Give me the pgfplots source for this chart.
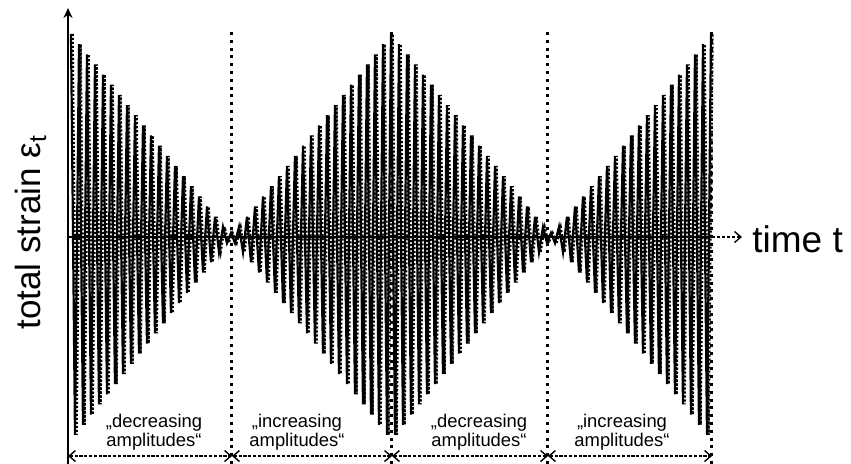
\documentclass[border=0pt]{standalone}
\usepackage{pgfplots}
\pgfplotsset{compat=1.18}
\usepackage{pgfplotstable}
\usepackage{fontspec}
\setmainfont{Liberation Sans}
\usetikzlibrary{arrows.meta}

\pgfplotstableread{
t s
0 1
0.5 -0.975
1 0.95
1.5 -0.925
2 0.9
2.5 -0.875
3 0.85
3.5 -0.825
4 0.8
4.5 -0.775
5 0.75
5.5 -0.725
6 0.7
6.5 -0.675
7 0.65
7.5 -0.625
8 0.6
8.5 -0.575
9 0.55
9.5 -0.525
10 0.5
10.5 -0.475
11 0.45
11.5 -0.425
12 0.4
12.5 -0.375
13 0.35
13.5 -0.325
14 0.3
14.5 -0.275
15 0.25
15.5 -0.225
16 0.2
16.5 -0.175
17 0.15
17.5 -0.125
18 0.1
18.5 -0.075
19 0.05
19.5 -0.03
20 0.02
20.5 -0.03
21 0.05
21.5 -0.075
22 0.1
22.5 -0.125
23 0.15
23.5 -0.175
24 0.2
24.5 -0.225
25 0.25
25.5 -0.275
26 0.3
26.5 -0.325
27 0.35
27.5 -0.375
28 0.4
28.5 -0.425
29 0.45
29.5 -0.475
30 0.5
30.5 -0.525
31 0.55
31.5 -0.575
32 0.6
32.5 -0.625
33 0.65
33.5 -0.675
34 0.7
34.5 -0.725
35 0.75
35.5 -0.775
36 0.8
36.5 -0.825
37 0.85
37.5 -0.875
38 0.9
38.5 -0.925
39 0.95
39.5 -0.975
40 1
40.5 -0.975
41 0.95
41.5 -0.925
42 0.9
42.5 -0.875
43 0.85
43.5 -0.825
44 0.8
44.5 -0.775
45 0.75
45.5 -0.725
46 0.7
46.5 -0.675
47 0.65
47.5 -0.625
48 0.6
48.5 -0.575
49 0.55
49.5 -0.525
50 0.5
50.5 -0.475
51 0.45
51.5 -0.425
52 0.4
52.5 -0.375
53 0.35
53.5 -0.325
54 0.3
54.5 -0.275
55 0.25
55.5 -0.225
56 0.2
56.5 -0.175
57 0.15
57.5 -0.125
58 0.1
58.5 -0.075
59 0.05
59.5 -0.03
60 0.02
60.5 -0.03
61 0.05
61.5 -0.075
62 0.1
62.5 -0.125
63 0.15
63.5 -0.175
64 0.2
64.5 -0.225
65 0.25
65.5 -0.275
66 0.3
66.5 -0.325
67 0.35
67.5 -0.375
68 0.4
68.5 -0.425
69 0.45
69.5 -0.475
70 0.5
70.5 -0.525
71 0.55
71.5 -0.575
72 0.6
72.5 -0.625
73 0.65
73.5 -0.675
74 0.7
74.5 -0.725
75 0.75
75.5 -0.775
76 0.8
76.5 -0.825
77 0.85
77.5 -0.875
78 0.9
78.5 -0.925
79 0.95
79.5 -0.975
80 1
}\wave

\tikzset{
  sep/.style={line width=1.5pt, dash pattern=on 1.5pt off 2.4pt},
  span/.style={line width=0.7pt, dash pattern=on 1.6pt off 0.8pt, {Straight Barb[length=3.2pt,width=5.5pt]}-{Straight Barb[length=3.2pt,width=5.5pt]}},
  lab/.style={anchor=base, font=\fontsize{9.2}{10}\selectfont, inner sep=0pt},
}

\begin{document}
\begin{tikzpicture}
\useasboundingbox (0,0) rectangle (425.5pt,232pt);
\begin{axis}[
  at={(0,0)}, anchor=south west,
  scale only axis, width=425.5pt, height=232pt,
  xmin=-8.875, xmax=97.5, ymin=-1.1182, ymax=1.1675,
  hide axis, clip=false,
]
% signal (solid) and overlaid dotted trace
\addplot[black, line width=1.1pt, no marks] table[x=t, y=s] {\wave};
\addplot[black, line width=1.0pt, densely dotted, no marks] table[x expr=\thisrow{t}+0.22, y=s] {\wave};

% axes
\draw[line width=0.8pt, -{Stealth[length=5pt,width=4.5pt]}] (axis cs:-0.375,-1.1182) -- (axis cs:-0.375,1.128);
\draw[line width=0.7pt] (axis cs:-0.375,0) -- (axis cs:80.125,0);
\draw[line width=0.7pt, dash pattern=on 1.5pt off 1pt, -{Straight Barb[length=3.2pt,width=5.5pt]}] (axis cs:80.125,0) -- (axis cs:83.875,0);

% dotted separators
\draw[sep] (axis cs:20.125,1.01) -- (axis cs:20.125,-1.1182);
\draw[sep] (axis cs:40.125,1.01) -- (axis cs:40.125,-1.1182);
\draw[sep] (axis cs:59.625,1.01) -- (axis cs:59.625,-1.1182);
\draw[sep] (axis cs:80.125,1.01) -- (axis cs:80.125,-1.1182);

% bottom span arrows
\draw[span] (axis cs:-0.375,-1.079) -- (axis cs:20.125,-1.079);
\draw[span] (axis cs:20.125,-1.079) -- (axis cs:40.125,-1.079);
\draw[span] (axis cs:40.125,-1.079) -- (axis cs:59.625,-1.079);
\draw[span] (axis cs:59.625,-1.079) -- (axis cs:80.125,-1.079);

% labels
\node[lab] at (axis cs:10.375,-0.936) {„decreasing};
\node[lab] at (axis cs:10.375,-1.030) {amplitudes“};
\node[lab] at (axis cs:28.25,-0.936) {„increasing};
\node[lab] at (axis cs:28.25,-1.030) {amplitudes“};
\node[lab] at (axis cs:51,-0.936) {„decreasing};
\node[lab] at (axis cs:51,-1.030) {amplitudes“};
\node[lab] at (axis cs:68.875,-0.936) {„increasing};
\node[lab] at (axis cs:68.875,-1.030) {amplitudes“};

\node[anchor=base west, font=\fontsize{18.5}{22}\selectfont, inner sep=0pt] at (axis cs:85.125,-0.074) {time t};
\node[rotate=90, anchor=west, font=\fontsize{17.5}{21}\selectfont, inner sep=0pt] at (axis cs:-5.0,-0.458) {total strain ε\textsubscript{t}};
\end{axis}
\end{tikzpicture}
\end{document}
